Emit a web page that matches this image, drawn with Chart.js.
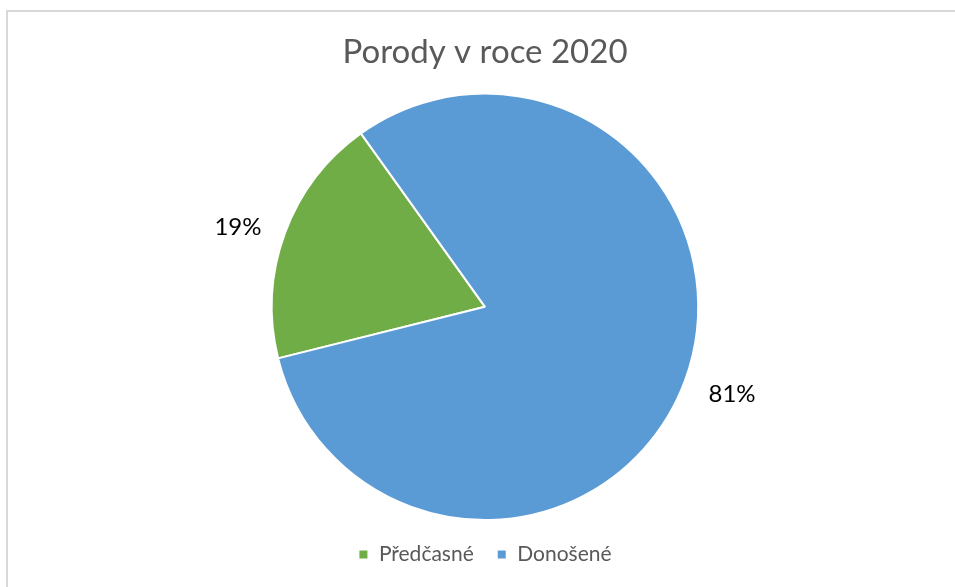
<!DOCTYPE html>
<html>
<head>
<meta charset="utf-8">
<script src="https://cdn.jsdelivr.net/npm/chart.js@4.4.0/dist/chart.umd.min.js"></script>
<style>
  body { margin: 0; background: #fff; }
  #wrap { position: relative; width: 955px; height: 587px; }
  #frame {
    position: absolute; left: 6px; top: 10px; right: -5px; bottom: -5px;
    border-top: 2px solid #d9d9d9; border-left: 2px solid #d9d9d9;
  }
  canvas { position: absolute; left: 0; top: 0; }
</style>
</head>
<body>
<div id="wrap">
  <div id="frame"></div>
  <canvas id="pieChart" width="955" height="587"></canvas>
</div>
<script>
const categories = ["Předčasné", "Donošené"];
const shares = [19, 81];
const sliceColors = ["#70ad47", "#5b9bd5"];
const chartTitle = "Porody v roce 2020";

const fontFamily = "Lato, 'Open Sans', sans-serif";

// percent labels outside each slice (a bit flattened like excel's best fit)
const outsideLabels = {
  id: "outsideLabels",
  afterDatasetsDraw(chart) {
    const ctx = chart.ctx;
    const meta = chart.getDatasetMeta(0);
    const total = shares.reduce((a, b) => a + b, 0);
    ctx.save();
    ctx.font = "24px " + fontFamily;
    ctx.fillStyle = "#000";
    ctx.textAlign = "center";
    ctx.textBaseline = "middle";
    meta.data.forEach((arc, i) => {
      const mid = (arc.startAngle + arc.endAngle) / 2;
      const rx = arc.outerRadius + 50;
      const ry = (arc.outerRadius + 48) * 0.93;
      const x = arc.x + Math.cos(mid) * rx;
      const y = arc.y + Math.sin(mid) * ry + 4;
      ctx.fillText(Math.round((shares[i] / total) * 100) + "%", x, y);
    });
    ctx.restore();
  },
};

new Chart(document.getElementById("pieChart"), {
  type: "pie",
  data: {
    labels: categories,
    datasets: [
      {
        data: shares,
        backgroundColor: sliceColors,
        borderColor: "#fff",
        borderWidth: 2,
      },
    ],
  },
  options: {
    responsive: false,
    animation: false,
    rotation: 256,
    layout: {
      padding: { top: 0, bottom: 12, left: 15, right: 0 },
    },
    plugins: {
      title: {
        display: true,
        text: chartTitle,
        color: "#595959",
        font: { size: 33, weight: "normal", family: fontFamily },
        padding: { top: 33, bottom: 20 },
      },
      legend: {
        display: true,
        position: "bottom",
        labels: {
          usePointStyle: true,
          pointStyle: "rect",
          boxWidth: 10,
          boxHeight: 10,
          color: "#595959",
          font: { size: 21, family: fontFamily },
          padding: 23,
        },
      },
      tooltip: { enabled: false },
    },
  },
  plugins: [outsideLabels],
});
</script>
</body>
</html>
